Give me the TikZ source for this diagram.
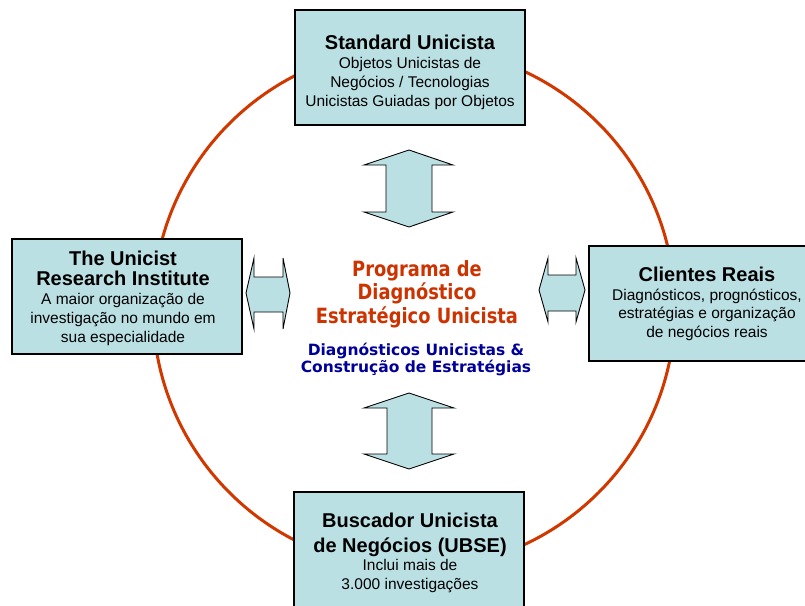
\documentclass[tikz,border=0pt]{standalone}
\usepackage{fontspec}
\setmainfont{Liberation Sans}
\newfontfamily\progfont[FakeStretch=0.85]{DejaVu Sans}
\newfontfamily\diagfont{DejaVu Sans}

\definecolor{boxblue}{RGB}{187,224,228}
\definecolor{ringred}{RGB}{208,56,0}
\definecolor{progorange}{RGB}{204,51,0}
\definecolor{diagblue}{RGB}{0,0,153}

\tikzset{
  box/.style={draw=black,line width=1.4pt,fill=boxblue,inner sep=0pt},
  boxtext/.style={align=center,anchor=base,inner sep=0pt,font=\fontsize{15.5}{18.7}\selectfont},
  blockarrow/.style={draw=black,line width=0.9pt,fill=boxblue,line join=miter},
}
\newcommand{\boxtitle}[1]{{\bfseries\fontsize{20}{18.7}\selectfont #1}}

\begin{document}
\begin{tikzpicture}[x=1pt,y=-1pt]
\useasboundingbox (0,0) rectangle (805,605);
\clip (0,0) rectangle (805,605);

%ring
\draw[ringred,line width=3pt] (414,308) circle[radius=261pt];

%boxes
\node[box,minimum width=230pt,minimum height=115pt] (std) at (410,67.5) {};
\node[box,minimum width=230pt,minimum height=115pt] (tri) at (127,296.5) {};
\node[box,minimum width=234pt,minimum height=115pt] (cli) at (706,303.5) {};
\node[box,minimum width=230pt,minimum height=120pt] (ubse) at (409,552) {};

%texts, anchored at the last line
\node[boxtext] (stdtext) at (410,106) {\boxtitle{Standard Unicista}\\Objetos Unicistas de\\Neg\'ocios / Tecnologias\\Unicistas Guiadas por Objetos};
\node[boxtext,font=\fontsize{15.5}{19}\selectfont] (tritext) at (123,342) {\boxtitle{The Unicist}\\[1pt]\boxtitle{Research Institute}\\A maior organiza\c{c}\~ao de\\investiga\c{c}\~ao no mundo em\\sua especialidade};
\node[boxtext,font=\fontsize{15.5}{18.5}\selectfont] (clitext) at (707,337) {\boxtitle{Clientes Reais}\\Diagn\'osticos, progn\'osticos,\\estrat\'egias e organiza\c{c}\~ao\\de neg\'ocios reais};
\node[boxtext,font=\fontsize{15.5}{18.5}\selectfont] (ubsetext) at (410,589) {\boxtitle{Buscador Unicista}\\[6pt]\boxtitle{de Neg\'ocios (UBSE)}\\Inclui mais de\\3.000 investiga\c{c}\~oes};

%center
\node[align=center,anchor=base,inner sep=0pt,text=progorange,font=\progfont\bfseries\fontsize{21}{23.5}\selectfont] (prog) at (417,323) {Programa de\\Diagn\'ostico\\Estrat\'egico Unicista};
\node[align=center,anchor=base,inner sep=0pt,text=diagblue,font=\diagfont\bfseries\fontsize{15.5}{17.5}\selectfont] (diag) at (416,372.5) {Diagn\'osticos Unicistas \&\\Constru\c{c}\~ao de Estrat\'egias};

%arrows
\draw[blockarrow] (409,150) -- (453,165) -- (432,165) -- (432,212) -- (453,212) -- (409,227)
  -- (364,212) -- (386,212) -- (386,165) -- (364,165) -- cycle;
\draw[blockarrow] (409,393) -- (454,408) -- (432,408) -- (432,454) -- (454,454) -- (409,469)
  -- (364,454) -- (387,454) -- (387,408) -- (364,408) -- cycle;
\draw[blockarrow] (246,293) -- (254,258) -- (254,277) -- (283,277) -- (283,258) -- (290,293)
  -- (283,329) -- (283,312) -- (254,312) -- (254,329) -- cycle;
\draw[blockarrow] (539,290) -- (548,258) -- (548,275) -- (576,275) -- (576,258) -- (585,290)
  -- (576,322) -- (576,311) -- (548,311) -- (548,322) -- cycle;

\end{tikzpicture}
\end{document}
